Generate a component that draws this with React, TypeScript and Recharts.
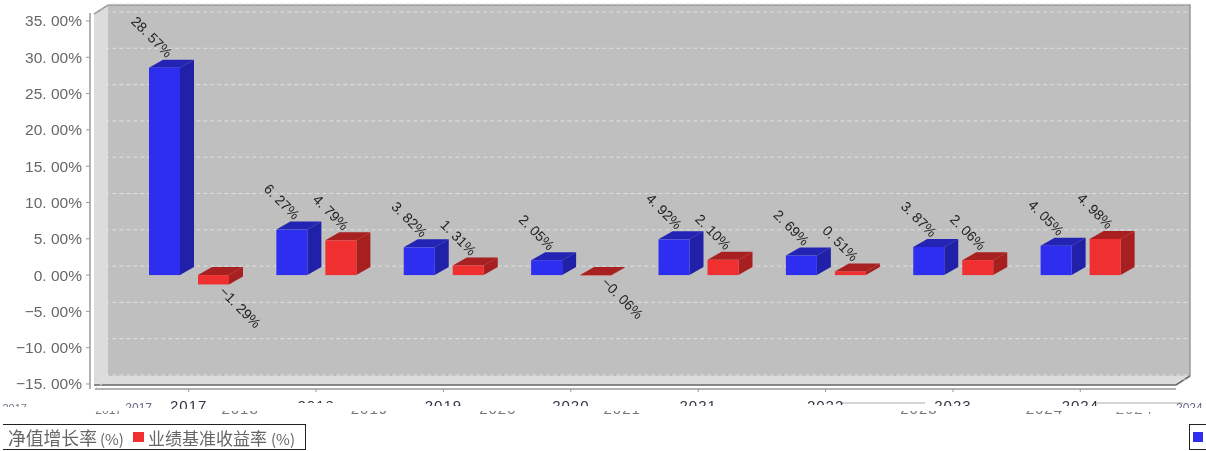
import React from "react";
import { BarChart, Bar, XAxis, YAxis, CartesianGrid, LabelList, Legend } from "recharts";

const categories = ["2017", "2018", "2019", "2020", "2021", "2022", "2023", "2024"];
const navGrowth = [28.57, 6.27, 3.82, 2.05, 4.92, 2.69, 3.87, 4.05];
const benchmark = [-1.29, 4.79, 1.31, -0.06, 2.1, 0.51, 2.06, 4.98];
const yTicks = [-15, -10, -5, 0, 5, 10, 15, 20, 25, 30, 35];
const seriesNames = ["净值增长率", "业绩基准收益率"];
const seriesUnit = "(%)";

const rows = categories.map((c, i) => ({ c, a: navGrowth[i], b: benchmark[i] }));

const BLUE = { front: "#2e2ef0", side: "#2020a8", top: "#2424b4" };
const RED = { front: "#f03030", side: "#a81f1f", top: "#a82020" };
const DX = 14;
const DY = 8;
const SANS = "'Liberation Sans', Arial, sans-serif";
const CJK = "'Noto Sans CJK SC', sans-serif";

const pct = (v: number) => {
  const s = Math.abs(v).toFixed(2).replace(".", ". ");
  return (v < 0 ? "\u2212" : "") + s + "%";
};

const Box3D = (colors: typeof BLUE) => (p: any) => {
  const top = Math.min(p.y, p.y + p.height);
  const bottom = Math.max(p.y, p.y + p.height);
  const l = p.x;
  const r = p.x + p.width;
  return (
    <g>
      <polygon points={`${l},${top} ${l + DX},${top - DY} ${r + DX},${top - DY} ${r},${top}`} fill={colors.top} />
      <polygon points={`${r},${top} ${r + DX},${top - DY} ${r + DX},${bottom - DY} ${r},${bottom}`} fill={colors.side} />
      <rect x={l} y={top} width={p.width} height={bottom - top} fill={colors.front} />
    </g>
  );
};

const ValueLabel = (p: any) => {
  const cx = p.x + p.width / 2;
  const top = Math.min(p.y, p.y + p.height);
  const bottom = Math.max(p.y, p.y + p.height);
  const neg = p.value < 0;
  const ax = neg ? cx + 5 : cx + 2;
  const ay = neg ? bottom + 8 : top - 9;
  return (
    <text
      x={ax}
      y={ay}
      transform={`rotate(45 ${ax} ${ay})`}
      textAnchor={neg ? "start" : "end"}
      fontFamily={SANS}
      fontSize={14}
      fill="#222"
    >
      {pct(p.value)}
    </text>
  );
};

const upperClip = [9, 3, 6, 6, 6, 5, 6, 6];
const lowerShift = [-80, -76, -74, -73, -76, null, -34, -36];

const Clipped = ({ id, x, y, h, fill, base, label, size = 15 }: any) => (
  <>
    <clipPath id={id}>
      <rect x={x - 40} y={y} width={80} height={h} />
    </clipPath>
    <text x={x} y={base} textAnchor="middle" fontFamily={SANS} fontSize={size} letterSpacing={size > 12 ? 1 : 0} fill={fill} clipPath={`url(#${id})`}>
      {label}
    </text>
  </>
);

const CategoryTick = (p: any) => {
  const i = p.index;
  const low = lowerShift[i];
  const label = p.payload.value;
  return (
    <g>
      <line x1={p.x} x2={p.x} y1={389} y2={392} stroke="#999" />
      <Clipped id={`up${i}`} x={p.x} y={400} h={upperClip[i]} fill="#334" base={411} label={label} />
      {low !== null && (
        <Clipped id={`lo${i}`} x={p.x + low} y={411} h={3} fill="#777" base={414} label={label} size={i === 0 ? 12 : 15} />
      )}
      {i === 0 && <Clipped id="upA" x={p.x - 50} y={402} h={6} fill="#668" base={412} label={label} size={12} />}
      {i === 0 && <Clipped id="upB" x={p.x - 174} y={402} h={5} fill="#778" base={412} label={label} size={11} />}
      {i === 7 && <Clipped id="loC" x={p.x + 54} y={412} h={2} fill="#888" base={414} label={label} />}
      {i === 7 && <Clipped id="upD" x={p.x + 109} y={402} h={6} fill="#668" base={412} label={label} size={12} />}
    </g>
  );
};

const GridLine = (p: any) => {
  const y = p.y1 - 9;
  return (
    <polyline
      points={`94,${p.y1} 108,${y} 1190,${y}`}
      fill="none"
      stroke="#e0e0e0"
      strokeWidth={1}
      strokeDasharray="4 3"
    />
  );
};

const Walls = () => (
  <svg width={1206} height={451} style={{ position: "absolute", left: 0, top: 0 }}>
    <polygon points="108,5 1190,5 1190,376 108,376" fill="#bfbfbf" />
    <polygon points="94,14 108,5 108,376 94,385" fill="#dcdcdc" />
    <polygon points="94,385 108,376 1190,376 1176,385" fill="#dcdcdc" />
    <polyline points="94,14 108,5 1190,5 1190,376" fill="none" stroke="#999" strokeWidth={1.5} />
    <polyline points="94,385 1176,385 1190,376" fill="none" stroke="#666" strokeWidth={1.5} />
    <line x1={95} x2={1176} y1={389} y2={389} stroke="#999" strokeWidth={1.5} />
    <line x1={840} x2={925} y1={403} y2={403} stroke="#aaa" />
    <line x1={1097} x2={1183} y1={403} y2={403} stroke="#aaa" />
  </svg>
);

const LegendLabel = ({ name, left, size, gap }: any) => (
  <span style={{ position: "absolute", left, top: 0, fontSize: size, lineHeight: "25px" }}>
    {name}
    <span style={{ fontSize: 15, marginLeft: gap }}>{seriesUnit}</span>
  </span>
);

const LegendBoxes = () => (
  <div style={{ position: "relative", height: 0, width: 1206 }}>
    <div
      style={{
        position: "absolute",
        left: 3,
        top: 0,
        width: 303,
        height: 26,
        boxSizing: "border-box",
        borderTop: "1.5px solid #222",
        borderBottom: "1.5px solid #222",
        borderRight: "1.5px solid #222",
        fontFamily: CJK,
        color: "#666",
        whiteSpace: "nowrap",
      }}
    >
      <LegendLabel name={seriesNames[0]} left={5} size={17.8} gap={3} />
      <span style={{ position: "absolute", left: 130, top: 7, width: 11, height: 10, background: RED.front }} />
      <LegendLabel name={seriesNames[1]} left={145} size={17} gap={4} />
    </div>
    <div
      style={{
        position: "absolute",
        left: 1189,
        top: 0,
        width: 17,
        height: 26,
        boxSizing: "border-box",
        borderTop: "1.5px solid #222",
        borderBottom: "1.5px solid #222",
        borderLeft: "1.5px solid #222",
      }}
    >
      <span style={{ position: "absolute", left: 3, top: 7, width: 10, height: 10, background: BLUE.front }} />
    </div>
  </div>
);

export default function App() {
  return (
    <div style={{ position: "absolute", left: 0, top: 0, width: 1206, height: 451, background: "#fff", filter: "blur(0.35px)" }}>
      <Walls />
      <div style={{ position: "absolute", left: 0, top: 0 }}>
        <BarChart
          width={1206}
          height={451}
          data={rows}
          margin={{ top: 13, right: 30, bottom: 0, left: 0 }}
          barSize={31}
          barGap={18}
        >
          <CartesianGrid vertical={false} horizontal={GridLine} />
          <XAxis
            dataKey="c"
            height={62}
            axisLine={false}
            tickLine={false}
            interval={0}
            padding={{ left: 35, right: 32 }}
            tick={CategoryTick}
          />
          <YAxis
            width={90}
            domain={[-15.69, 36.1]}
            ticks={yTicks}
            interval={0}
            tickFormatter={pct}
            axisLine={{ stroke: "#999", strokeWidth: 1.5 }}
            tickLine={{ stroke: "#999" }}
            tickSize={4}
            tickMargin={4}
            tick={{ fontFamily: SANS, fontSize: 15.5, fill: "#666" }}
          />
          <Bar dataKey="a" name={seriesNames[0]} fill={BLUE.front} shape={Box3D(BLUE)} isAnimationActive={false}>
            <LabelList dataKey="a" content={ValueLabel} />
          </Bar>
          <Bar dataKey="b" name={seriesNames[1]} fill={RED.front} shape={Box3D(RED)} isAnimationActive={false}>
            <LabelList dataKey="b" content={ValueLabel} />
          </Bar>
          <Legend
            content={LegendBoxes}
            wrapperStyle={{ position: "absolute", left: 0, top: 424, width: 1206, height: 0 }}
          />
        </BarChart>
      </div>
    </div>
  );
}
